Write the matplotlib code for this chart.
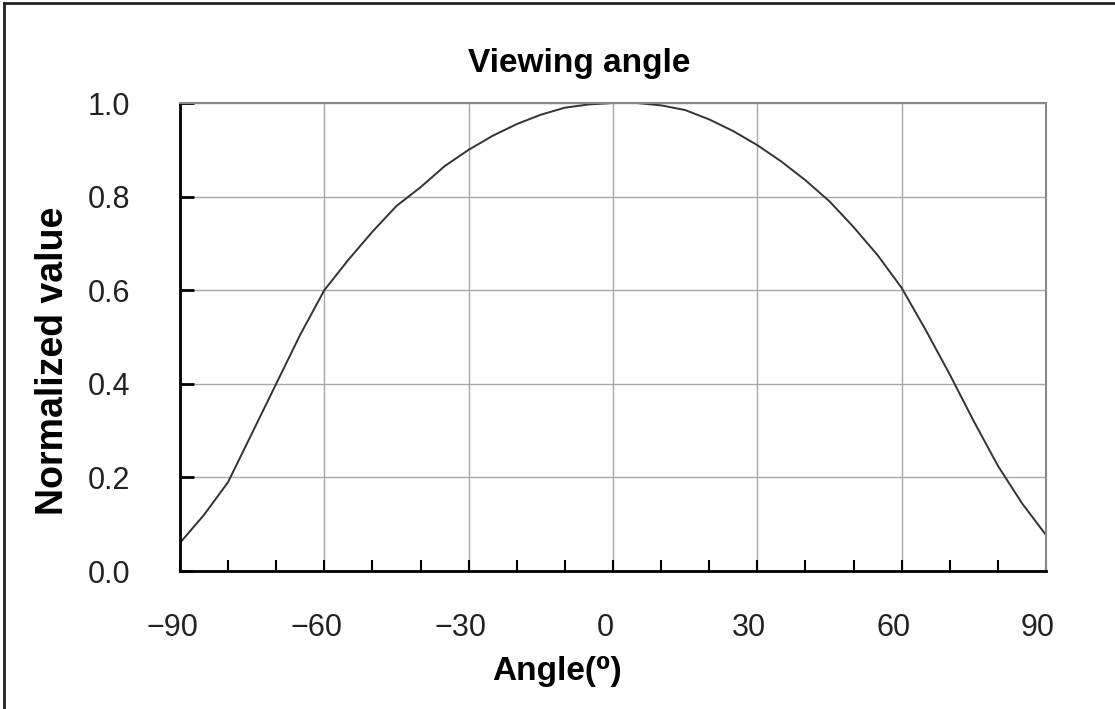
import numpy as np
import matplotlib
matplotlib.use("Agg")
import matplotlib.pyplot as plt
import matplotlib.transforms as mtransforms
from matplotlib.lines import Line2D

plt.rcParams['font.family'] = ['Liberation Sans', 'DejaVu Sans']

# values, every 5 degrees
angle = [-90, -85, -80, -75, -70, -65, -60, -55, -50, -45, -40, -35, -30,
         -25, -20, -15, -10, -5, 0, 5, 10, 15, 20, 25, 30, 35, 40, 45,
         50, 55, 60, 65, 70, 75, 80, 85, 90]
norm_value = [0.06, 0.12, 0.19, 0.295, 0.40, 0.505, 0.60, 0.665, 0.725, 0.78,
              0.82, 0.865, 0.90, 0.93, 0.955, 0.975, 0.99, 0.997, 1.0, 1.0,
              0.995, 0.985, 0.965, 0.94, 0.91, 0.875, 0.835, 0.79, 0.735,
              0.675, 0.605, 0.515, 0.42, 0.32, 0.225, 0.145, 0.077]

x_major = [-90, -60, -30, 0, 30, 60, 90]
x_minor = list(range(-90, 91, 10))
y_major = [0.0, 0.2, 0.4, 0.6, 0.8, 1.0]

fig = plt.figure(figsize=(11.15, 7.09), dpi=100)
ax = fig.add_axes([0.1614, 0.1946, 0.7767, 0.6601])

ax.plot(angle, norm_value, color='#333333', lw=1.4)

ax.set_xlim(-90, 90)
ax.set_ylim(0, 1.0)
ax.set_xticks(x_major)
ax.set_xticks(x_minor, minor=True)
ax.set_yticks(y_major)
ax.set_yticklabels([f"{v:.1f}" for v in y_major])
ax.grid(True, which='major', color='#a8a8a8', lw=1.0)
ax.set_axisbelow(True)

ax.tick_params(axis='x', which='both', direction='in', length=8, width=1.5,
               color='black', labelsize=22, pad=30, labelcolor='#222222')
ax.tick_params(axis='y', which='major', direction='in', length=10, width=2,
               color='black', labelsize=22, pad=36, labelcolor='#222222')

# nudge x labels slightly left like the original
offset = mtransforms.ScaledTranslation(-8 / 100, 0, fig.dpi_scale_trans)
for lbl in ax.get_xticklabels():
    lbl.set_transform(lbl.get_transform() + offset)

for side in ['left', 'bottom']:
    ax.spines[side].set_color('black')
    ax.spines[side].set_linewidth(2)
for side in ['top', 'right']:
    ax.spines[side].set_color('#888888')
    ax.spines[side].set_linewidth(1.5)

ax.set_title('Viewing angle', fontsize=24, fontweight='bold', pad=22, x=0.461)
ax.set_xlabel('Angle(\u2070)', fontsize=24, fontweight='bold')
ax.xaxis.set_label_coords(0.435, -0.182)
ax.set_ylabel('Normalized value', fontsize=27, fontweight='bold')
ax.yaxis.set_label_coords(-0.126, 0.449)

# outer frame: only top and left edges visible
fig.add_artist(Line2D([0.0036, 0.0036], [0, 0.996], transform=fig.transFigure,
                      color='#222222', lw=2))
fig.add_artist(Line2D([0.0036, 1.0], [0.996, 0.996], transform=fig.transFigure,
                      color='#222222', lw=2))

fig.savefig('out.png', dpi=100)
